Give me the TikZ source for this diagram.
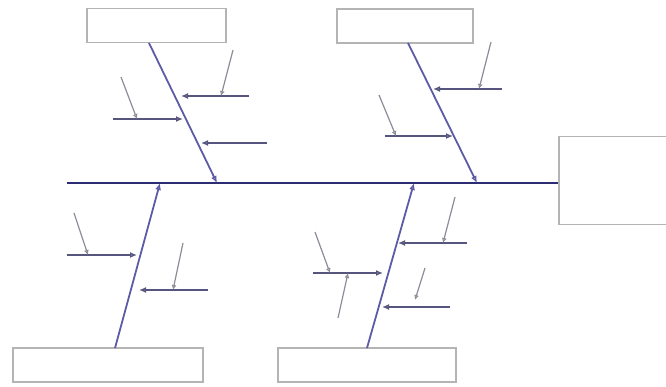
\documentclass[tikz,border=0pt]{standalone}
\usetikzlibrary{arrows.meta,positioning}
\definecolor{spinec}{HTML}{2C2C72}
\definecolor{bonec}{HTML}{5C5CA6}
\definecolor{twigc}{HTML}{55557E}
\definecolor{leafc}{HTML}{8C8C98}
\definecolor{boxc}{HTML}{B4B4B4}
\begin{document}
\begin{tikzpicture}[x=1pt,y=-1pt,
  causebox/.style={draw=boxc,line width=1.5pt,minimum height=34pt,inner sep=0pt},
  spine/.style={draw=spinec,line width=2.2pt},
  bone/.style={draw=bonec,line width=1.8pt,-{Latex[open,length=7pt,width=6pt]}},
  twig/.style={draw=twigc,line width=1.7pt,-{Latex[open,length=7pt,width=6pt]}},
  leaf/.style={draw=leafc,line width=1.2pt,-{Latex[open,length=5pt,width=5pt]}}]
  \useasboundingbox (0,0) rectangle (666,387);
  % boxes
  \node[causebox,minimum width=139pt] (tl) at (156.5,25.5) {};
  \node[causebox,minimum width=136pt] (tr) at (405,26) {};
  \node[causebox,minimum width=190pt] (bl) at (108,365) {};
  \node[causebox,minimum width=178pt] (br) at (367,365) {};
  \node[causebox,minimum width=121pt,minimum height=88pt] (head) at (619.5,180.5) {};
  % spine
  \coordinate (tail) at (67,183);
  \draw[spine] (tail) -- (tail -| head.west);
  % main bones
  \coordinate (tls) at (149,43);  \coordinate (tlj) at (217,183);
  \coordinate (trs) at (408,43);  \coordinate (trj) at (477,183);
  \coordinate (bls) at (115,348); \coordinate (blj) at (160,183);
  \coordinate (brs) at (367,348); \coordinate (brj) at (414,183);
  \draw[bone] (tls) -- (tlj);
  \draw[bone] (trs) -- (trj);
  \draw[bone] (bls) -- (blj);
  \draw[bone] (brs) -- (brj);
  % top left
  \coordinate (a1) at (249,96);  \coordinate (a1t) at (181,96);
  \coordinate (a2) at (113,119); \coordinate (a2t) at (183,119);
  \coordinate (a3) at (267,143); \coordinate (a3t) at (201,143);
  \draw[twig] (a1) -- (a1t);
  \draw[twig] (a2) -- (a2t);
  \draw[twig] (a3) -- (a3t);
  \coordinate (a1l) at (233,50);  \coordinate (a1m) at (221,96);
  \coordinate (a2l) at (121,77);  \coordinate (a2m) at (137,119);
  \draw[leaf] (a1l) -- (a1m);
  \draw[leaf] (a2l) -- (a2m);
  % top right
  \coordinate (b1) at (502,89);  \coordinate (b1t) at (433,89);
  \coordinate (b2) at (385,136); \coordinate (b2t) at (453,136);
  \draw[twig] (b1) -- (b1t);
  \draw[twig] (b2) -- (b2t);
  \coordinate (b1l) at (491,42);  \coordinate (b1m) at (479,89);
  \coordinate (b2l) at (379,95);  \coordinate (b2m) at (396,136);
  \draw[leaf] (b1l) -- (b1m);
  \draw[leaf] (b2l) -- (b2m);
  % bottom left
  \coordinate (c1) at (67,255);  \coordinate (c1t) at (137,255);
  \coordinate (c2) at (208,290); \coordinate (c2t) at (139,290);
  \draw[twig] (c1) -- (c1t);
  \draw[twig] (c2) -- (c2t);
  \coordinate (c1l) at (74,213);  \coordinate (c1m) at (88,255);
  \coordinate (c2l) at (183,243); \coordinate (c2m) at (173,290);
  \draw[leaf] (c1l) -- (c1m);
  \draw[leaf] (c2l) -- (c2m);
  % bottom right
  \coordinate (d1) at (467,243); \coordinate (d1t) at (398,243);
  \coordinate (d2) at (313,273); \coordinate (d2t) at (383,273);
  \coordinate (d3) at (450,307); \coordinate (d3t) at (382,307);
  \draw[twig] (d1) -- (d1t);
  \draw[twig] (d2) -- (d2t);
  \draw[twig] (d3) -- (d3t);
  \coordinate (d1l) at (455,197); \coordinate (d1m) at (443,243);
  \coordinate (d2l) at (315,232); \coordinate (d2m) at (330,273);
  \coordinate (d4l) at (338,318); \coordinate (d4m) at (348,273);
  \coordinate (d3l) at (425,268); \coordinate (d3m) at (415,300);
  \draw[leaf] (d1l) -- (d1m);
  \draw[leaf] (d2l) -- (d2m);
  \draw[leaf] (d4l) -- (d4m);
  \draw[leaf] (d3l) -- (d3m);
\end{tikzpicture}
\end{document}
